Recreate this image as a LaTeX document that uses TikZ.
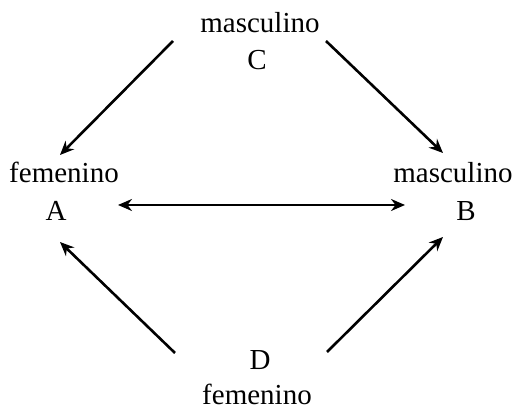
\documentclass[tikz,border=0pt]{standalone}
\usepackage{fontspec}
\setmainfont{Liberation Serif}
\usetikzlibrary{arrows.meta}
\begin{document}
\begin{tikzpicture}[x=0.5pt,y=-0.5pt,
  every node/.style={font=\fontsize{14.5}{17}\selectfont, inner sep=0pt, anchor=base},
  arr/.style={line width=1.3pt, -{Stealth[length=7pt,width=6pt]}},
  darr/.style={line width=1.1pt, {Stealth[length=7pt,width=6pt]}-{Stealth[length=7pt,width=6pt]}}]
  \useasboundingbox (0,0) rectangle (516,411);
  % labels
  \node (mC) at (260,33) {masculino};
  \node (C) at (257,70) {C};
  \node (fA) at (64,183) {femenino};
  \node (A) at (56,221) {A};
  \node (mB) at (453,183) {masculino};
  \node (B) at (466,221) {B};
  \node (D) at (260,370) {D};
  \node (fD) at (257,405) {femenino};
  % connector ends
  \coordinate (CtoA) at (173,41);
  \coordinate (AfromC) at (60,155);
  \coordinate (CtoB) at (326,41);
  \coordinate (BfromC) at (443,153);
  \coordinate (DtoA) at (175,353);
  \coordinate (AfromD) at (60,242);
  \coordinate (DtoB) at (327,352);
  \coordinate (BfromD) at (443,237);
  \coordinate (AtoB) at (118,205);
  \coordinate (BtoA) at (405,205);
  % arrows
  \draw[arr] (CtoA) -- (AfromC);
  \draw[arr] (CtoB) -- (BfromC);
  \draw[arr] (DtoA) -- (AfromD);
  \draw[arr] (DtoB) -- (BfromD);
  \draw[darr] (AtoB) -- (BtoA);
\end{tikzpicture}
\end{document}
